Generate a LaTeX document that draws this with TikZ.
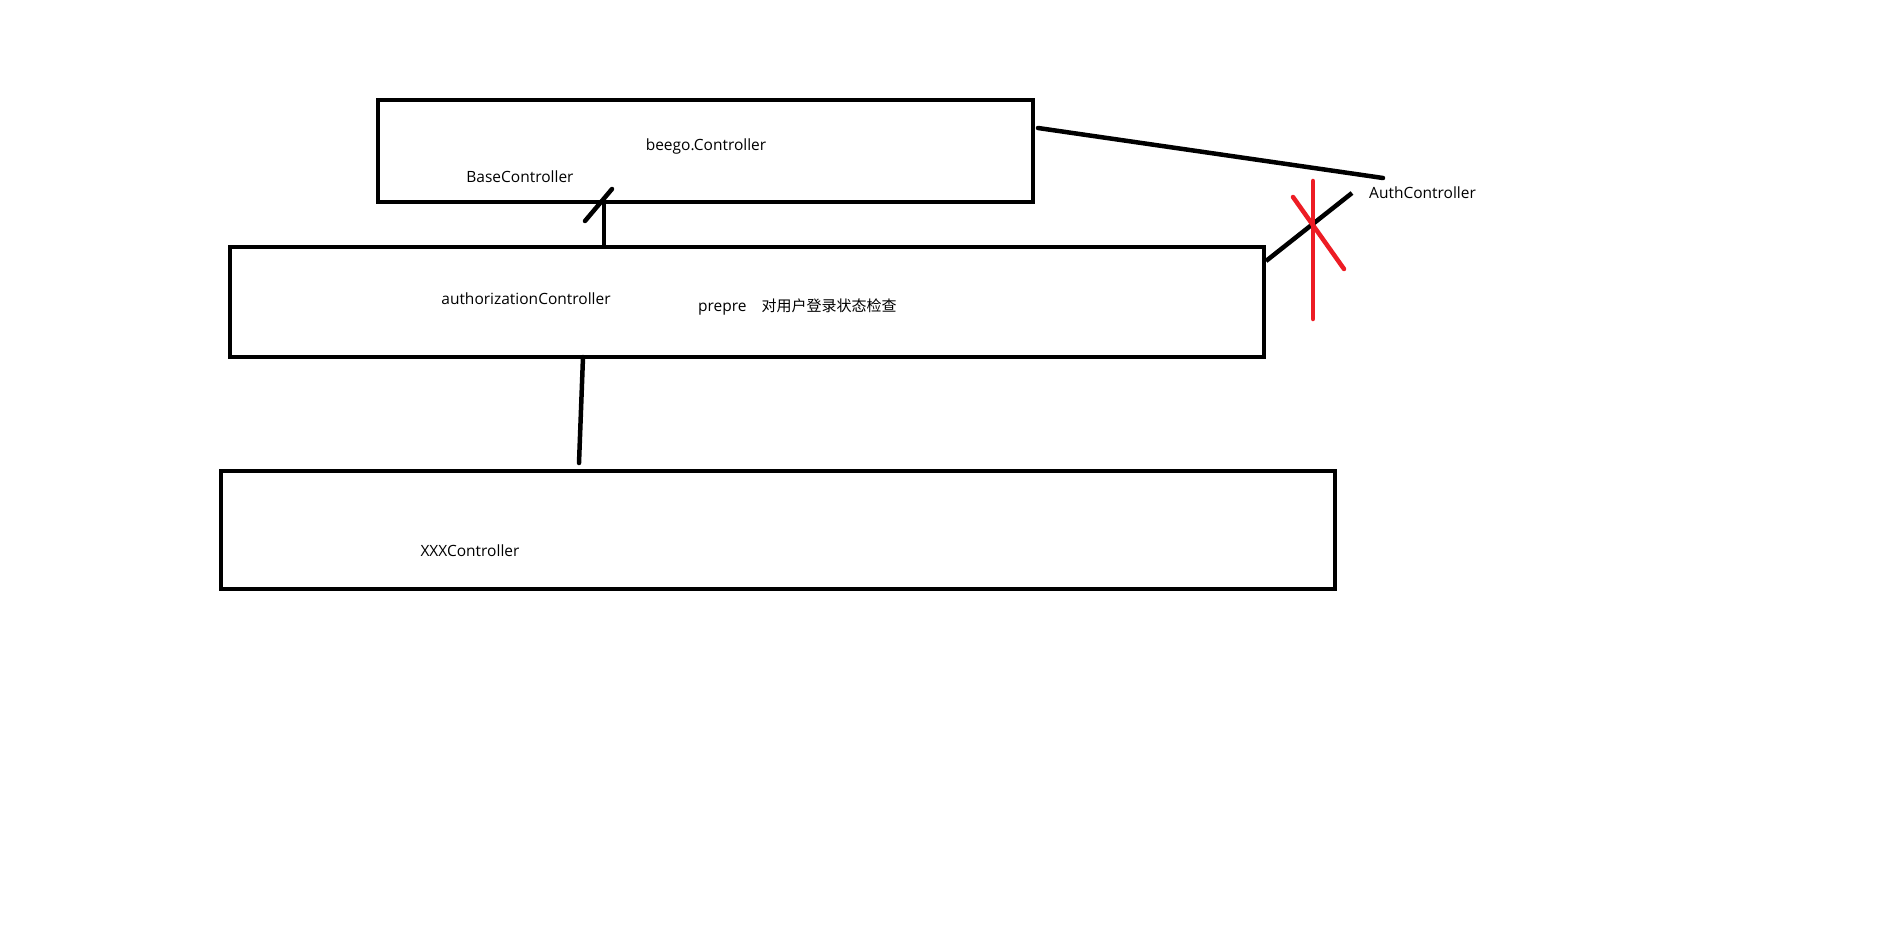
\documentclass[tikz,border=0pt]{standalone}
\usepackage{fontspec}
\setmainfont{Open Sans}
\newfontfamily\cjk{Noto Sans CJK SC}
\begin{document}
\begin{tikzpicture}[x=1pt,y=-1pt,
  classbox/.style={draw=black,line width=4.5pt,inner sep=0pt,minimum width=#1},
  wire/.style={draw=black,line width=4.5pt,line cap=round},
  cross/.style={draw=crossred,line width=4.5pt,line cap=round},
  label/.style={inner sep=0pt,font=\fontsize{15.5}{18}\selectfont}]
\definecolor{crossred}{RGB}{237,28,36}
\useasboundingbox[fill=white] (0,0) rectangle (1896,931);

% class boxes
\node[classbox=655, minimum height=102] (base) at (705.5,151) {};
\node[classbox=1034, minimum height=110] (authz) at (747,302) {};
\node[classbox=1114, minimum height=118] (xxx) at (778,530) {};

% labels
\node[label] (beego) at (706,146) {beego.Controller};
\node[label] (basec) at (520,177) {BaseController};
\node[label] (authzl) at (526,299) {authorizationController};
\node[label,anchor=west] (prepre) at (698,307) {prepre\hspace{15pt}{\cjk\fontsize{15}{18}\selectfont 对用户登录状态检查}};
\node[label] (xxxl) at (470,551) {XXXController};
\node[label,anchor=west] (auth) at (1369,193) {AuthController};

% inheritance links
\coordinate (upx) at (604,0);
\draw[wire,line cap=butt] (authz.north -| upx) -- (base.south -| upx);
\coordinate (slashA) at (585,221);
\coordinate (slashB) at (612,189);
\draw[wire] (slashA) -- (slashB);

\coordinate (downA) at (583,357);
\coordinate (downB) at (579,463);
\draw[wire] (downA) -- (downB);

\coordinate (topA) at (1038,128);
\coordinate (topB) at (1383,178);
\draw[wire] (topA) -- (topB);

\coordinate (sideA) at (1266,261);
\coordinate (sideB) at (1352,193);
\draw[wire,line cap=butt] (sideA) -- (sideB);

% red cross over the rejected link
\coordinate (redTop) at (1313,181);
\coordinate (redBot) at (1313,319);
\coordinate (redDA) at (1293,197);
\coordinate (redDB) at (1344,269);
\draw[cross] (redTop) -- (redBot);
\draw[cross] (redDA) -- (redDB);
\end{tikzpicture}
\end{document}
